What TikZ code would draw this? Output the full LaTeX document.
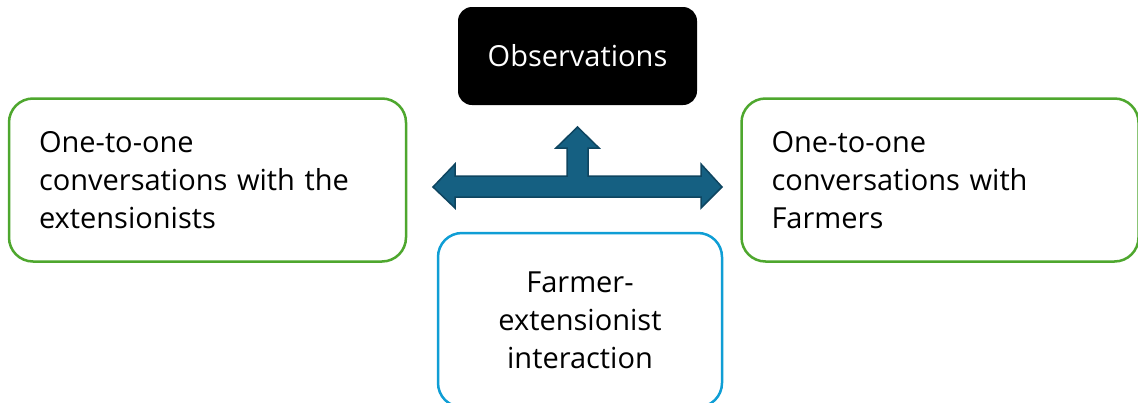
\documentclass[tikz,border=0pt]{standalone}
\usepackage{fontspec}
\setmainfont{Open Sans}
\definecolor{boxgreen}{HTML}{4EA72E}
\definecolor{boxblue}{HTML}{0F9ED5}
\definecolor{arrowfill}{HTML}{156082}
\definecolor{arrowline}{HTML}{0E4560}
\tikzset{
  txt/.style={font=\fontsize{29}{38}\selectfont},
  greenbox/.style={draw=boxgreen, line width=2.5pt, rounded corners=24pt, fill=white,
    minimum width=397pt, minimum height=163pt, text width=337pt, inner xsep=30pt,
    align=left, txt},
  bluebox/.style={draw=boxblue, line width=2.5pt, rounded corners=24pt, fill=white,
    minimum width=284pt, minimum height=174pt, align=center, txt},
  blackbox/.style={fill=black, rounded corners=14pt, minimum width=239pt,
    minimum height=98pt, text=white, align=center, txt},
  bigarrow/.style={fill=arrowfill, draw=arrowline, line width=1.5pt, line join=miter}
}
\begin{document}
\begin{tikzpicture}[x=1pt,y=-1pt]
\useasboundingbox (0,0) rectangle (1138,402);
\node[blackbox] (obs) at (577.5,56) {Observations};
\node[greenbox] (left) at (207.5,180) {One-to-one\\conversations with the\\extensionists};
\node[greenbox] (right) at (940,180) {One-to-one\\conversations with\\Farmers};
\node[bluebox] (mid) at (580,320) {Farmer-\\extensionist\\interaction};
\draw[bigarrow] (433,187) -- (455,164) -- (455,176) -- (567,176) -- (567,148)
  -- (556,148) -- (577.5,127) -- (599,148) -- (588,148) -- (588,176) -- (701,176)
  -- (701,164) -- (722,187) -- (701,208) -- (701,197) -- (455,197) -- (455,208) -- cycle;
\end{tikzpicture}
\end{document}
